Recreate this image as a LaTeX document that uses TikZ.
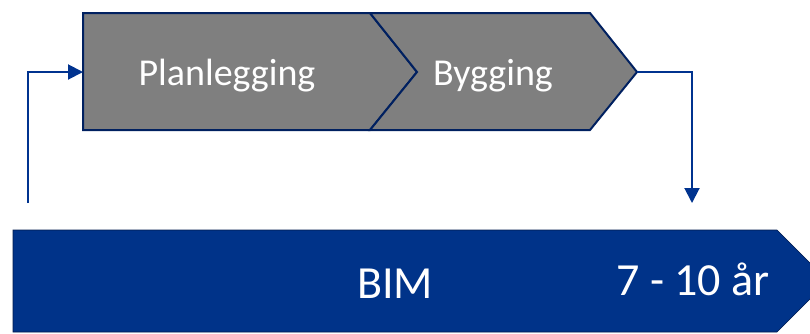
\documentclass[tikz,border=0pt]{standalone}
\usepackage{fontspec}
\setmainfont{Carlito}
\usetikzlibrary{arrows.meta}
\definecolor{navy}{HTML}{002060}
\definecolor{bimblue}{HTML}{003389}
\definecolor{linkblue}{HTML}{00338F}
\definecolor{stepgray}{HTML}{7F7F7F}
\tikzset{
  stage/.style={fill=stepgray, draw=navy, line width=2pt, line join=miter},
  stagetext/.style={text=white, font=\fontsize{38}{40}\selectfont, inner sep=0pt, anchor=base},
  bartext/.style={text=white, font=\fontsize{46}{48}\selectfont, inner sep=0pt, anchor=base},
  link/.style={draw=linkblue, line width=2pt, -{Triangle[length=15pt,width=15pt]}}
}
\begin{document}
\begin{tikzpicture}[x=1pt,y=-1pt]
\useasboundingbox (0,0) rectangle (810,333);
\clip (0,0) rectangle (810,333);
% stages
\path[stage] (83,13) -- (370,13) -- (417,72) -- (370,130) -- (83,130) -- cycle;
\path[stage] (370,13) -- (590,13) -- (637,72) -- (590,130) -- (370,130) -- (417,72) -- cycle;
\node[stagetext] (plan) at (227,85) {Planlegging};
\node[stagetext] (bygg) at (493,85) {Bygging};
% BIM bar
\path[fill=bimblue, draw=navy!80!black, line width=0.6pt] (13,230) -- (777,230) -- (828,281) -- (777,332) -- (13,332) -- cycle;
\node[bartext] (bim) at (395,298) {BIM};
\node[bartext] (years) at (693,295) {7 - 10 år};
% connector anchor points
\coordinate (start) at (28,203);
\coordinate (planin) at (83,72);
\coordinate (byggtip) at (637,72);
\coordinate (barin) at (692,203);
\draw[link] (start) |- (planin);
\draw[link] (byggtip) -| (barin);
\end{tikzpicture}
\end{document}
